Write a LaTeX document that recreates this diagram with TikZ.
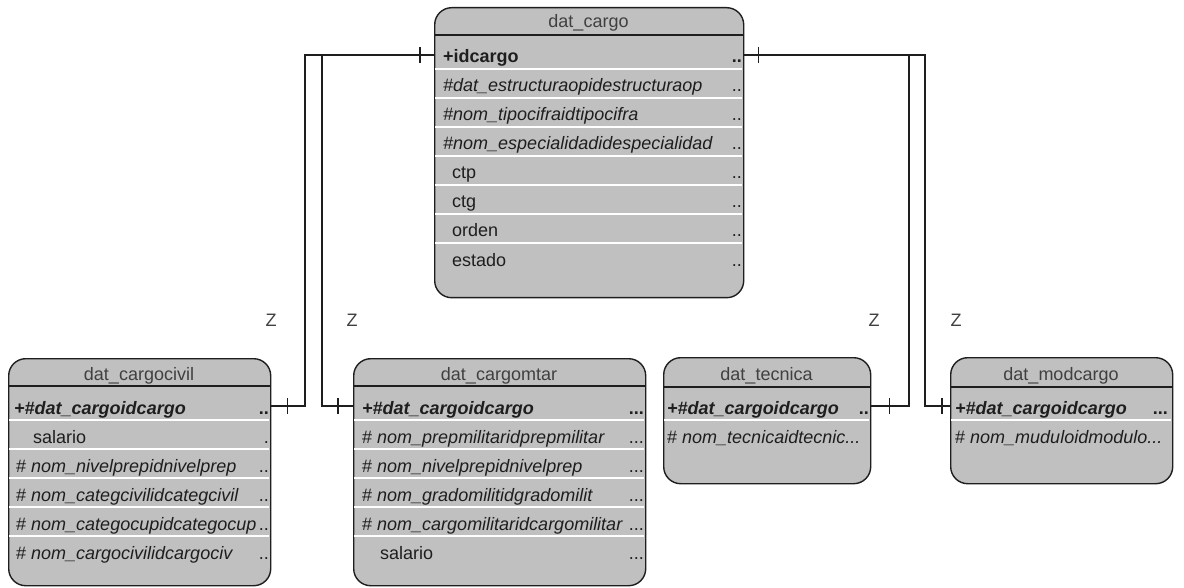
\documentclass[tikz,border=0pt]{standalone}
\usepackage{fontspec}
\setmainfont{Liberation Sans}
\definecolor{boxgray}{RGB}{192,192,192}
\definecolor{ink}{RGB}{30,30,30}
\tikzset{
 ent/.style={draw=ink, line width=1.4pt, fill=boxgray, rounded corners=17pt, inner sep=0pt},
 hdr/.style={text=ink!85, font=\fontsize{18}{20}\selectfont, inner sep=0pt, anchor=base},
 rowtxt/.style={text=ink, font=\fontsize{18}{20}\selectfont, inner sep=0pt, anchor=base west},
 rowbox/.style={inner sep=0pt, minimum height=29pt, anchor=west},
 dotsty/.style={text=ink, font=\fontsize{18}{20}\selectfont, inner sep=0pt, anchor=base east},
 hline/.style={draw=ink, line width=1.4pt},
 sepline/.style={draw=white, line width=1.4pt},
 link/.style={draw=ink, line width=1.3pt},
 tick/.style={draw=ink, line width=1.3pt},
 zlab/.style={text=ink!85, font=\fontsize{18}{20}\selectfont, inner sep=0pt},
}
% name, baseline y, text x, text, dots
\newcommand\erow[5]{%
 \node[rowbox, minimum width=\bw pt] (#1) at (\bl,#2-8) {};
 \node[rowtxt] at (#3,#2) {#4};
 \node[dotsty] at (\br-1,#2) {#5};
}
\begin{document}
\begin{tikzpicture}[x=1pt,y=-1pt]
\fill[white] (0,0) rectangle (1184,588);
\useasboundingbox (0,0) rectangle (1184,588);

% ---------- dat_cargo ----------
\def\bl{434}\def\br{743}\def\bw{309}
\node[ent, minimum width=309pt, minimum height=290pt, anchor=north west] (cargo) at (434,7) {};
\foreach \y in {69,98,127,156,185,214,243} \draw[sepline] (\bl+1,\y) -- (\br-1,\y);
\draw[hline] (\bl,35) -- (\br,35);
\node[hdr] (cargoh) at (588.5,28) {dat\_cargo};
\erow{cargo1}{63}{443}{\textbf{+idcargo}}{\textbf{..}}
\erow{cargo2}{92}{443}{\textit{\#dat\_estructuraopidestructuraop}}{..}
\erow{cargo3}{121}{443}{\textit{\#nom\_tipocifraidtipocifra}}{..}
\erow{cargo4}{150}{443}{\textit{\#nom\_especialidadidespecialidad}}{..}
\erow{cargo5}{179}{452}{ctp}{..}
\erow{cargo6}{208}{452}{ctg}{..}
\erow{cargo7}{237}{452}{orden}{..}
\erow{cargo8}{266}{452}{estado}{..}

% ---------- dat_cargocivil ----------
\def\bl{8}\def\br{270}\def\bw{262}
\node[ent, minimum width=262pt, minimum height=227pt, anchor=north west] (civil) at (8,358) {};
\foreach \y in {420,449,478,507,536} \draw[sepline] (\bl+1,\y) -- (\br-1,\y);
\draw[hline] (\bl,386) -- (\br,386);
\node[hdr] (civilh) at (139,380) {dat\_cargocivil};
\erow{civil1}{414}{14}{\textbf{\textit{+\#dat\_cargoidcargo}}}{\textbf{..}}
\erow{civil2}{443}{33}{salario}{.}
\erow{civil3}{472}{16}{\# \textit{nom\_nivelprepidnivelprep}}{..}
\erow{civil4}{501}{16}{\# \textit{nom\_categcivilidcategcivil}}{..}
\erow{civil5}{530}{16}{\# \textit{nom\_categocupidcategocup}}{..}
\erow{civil6}{559}{16}{\# \textit{nom\_cargocivilidcargociv}}{..}

% ---------- dat_cargomtar ----------
\def\bl{353}\def\br{645}\def\bw{292}
\node[ent, minimum width=292pt, minimum height=227pt, anchor=north west] (mtar) at (353,358) {};
\foreach \y in {420,449,478,507,536} \draw[sepline] (\bl+1,\y) -- (\br-1,\y);
\draw[hline] (\bl,386) -- (\br,386);
\node[hdr] (mtarh) at (499,380) {dat\_cargomtar};
\erow{mtar1}{414}{362}{\textbf{\textit{+\#dat\_cargoidcargo}}}{\textbf{...}}
\erow{mtar2}{443}{362}{\# \textit{nom\_prepmilitaridprepmilitar}}{...}
\erow{mtar3}{472}{362}{\# \textit{nom\_nivelprepidnivelprep}}{...}
\erow{mtar4}{501}{362}{\# \textit{nom\_gradomilitidgradomilit}}{...}
\erow{mtar5}{530}{362}{\# \textit{nom\_cargomilitaridcargomilitar}}{...}
\erow{mtar6}{559}{380}{salario}{...}

% ---------- dat_tecnica ----------
\def\bl{663}\def\br{870}\def\bw{207}
\node[ent, minimum width=207pt, minimum height=126pt, anchor=north west] (tec) at (663,357) {};
\draw[sepline] (\bl+1,420) -- (\br-1,420);
\draw[hline] (\bl,387) -- (\br,387);
\node[hdr] (tech) at (766.5,380) {dat\_tecnica};
\erow{tec1}{414}{667}{\textbf{\textit{+\#dat\_cargoidcargo}}}{\textbf{..}}
\erow{tec2}{443}{667}{\# \textit{nom\_tecnicaidtecnic...}}{}

% ---------- dat_modcargo ----------
\def\bl{950}\def\br{1172}\def\bw{222}
\node[ent, minimum width=222pt, minimum height=126pt, anchor=north west] (mod) at (950,357) {};
\draw[sepline] (\bl+1,420) -- (\br-1,420);
\draw[hline] (\bl,387) -- (\br,387);
\node[hdr] (modh) at (1061,380) {dat\_modcargo};
\erow{mod1}{414}{955}{\textbf{\textit{+\#dat\_cargoidcargo}}}{\textbf{...}\hspace*{3pt}}
\erow{mod2}{443}{955}{\# \textit{nom\_muduloidmodulo...}}{}

% ---------- connectors ----------
\coordinate (jl1) at (305,0);
\coordinate (jl2) at (322,0);
\coordinate (jr1) at (909,0);
\coordinate (jr2) at (925,0);
\draw[link] (cargo1.west) -| (jl1 |- civil1.east) -- (civil1.east);
\draw[link] (cargo1.west) -| (jl2 |- mtar1.west) -- (mtar1.west);
\draw[link] (cargo1.east) -| (jr1 |- tec1.east) -- (tec1.east);
\draw[link] (cargo1.east) -| (jr2 |- mod1.west) -- (mod1.west);

% ticks
\draw[tick] ([xshift=-14pt]cargo1.west) ++(0,-8) -- ++(0,16);
\draw[tick] ([xshift=15pt]cargo1.east) ++(0,-8) -- ++(0,16);
\draw[tick] ([xshift=17pt]civil1.east) ++(0,-8) -- ++(0,16);
\draw[tick] ([xshift=-15pt]mtar1.west) ++(0,-8) -- ++(0,16);
\draw[tick] ([xshift=19pt]tec1.east) ++(0,-8) -- ++(0,16);
\draw[tick] ([xshift=-8pt]mod1.west) ++(0,-8) -- ++(0,16);

% Z labels
\node[zlab] (z1) at (271,320) {Z};
\node[zlab] (z2) at (352,320) {Z};
\node[zlab] (z3) at (874,320) {Z};
\node[zlab] (z4) at (956,320) {Z};
\end{tikzpicture}
\end{document}
